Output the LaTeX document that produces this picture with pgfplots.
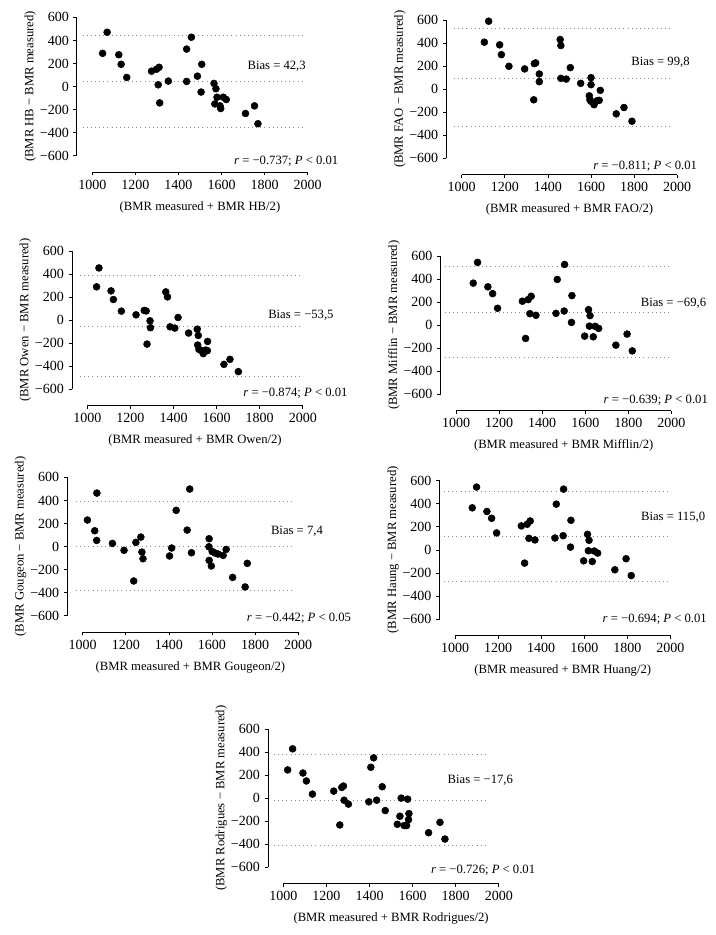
\documentclass[border=0pt]{standalone}
\usepackage{pgfplots}
\pgfplotsset{compat=1.18}
\usepackage{pgfplotstable}
\usepackage{fontspec}
\setmainfont{Liberation Serif}

\pgfplotstableread{
x y
1048 288
1069 471
1123 276
1134 193
1160 79
1275 133
1298 150
1310 167
1306 15
1313 -142
1353 47
1438 325
1460 428
1438 44
1488 90
1508 193
1505 -48
1565 27
1574 -19
1579 -93
1569 -151
1593 -168
1596 -191
1608 -93
1622 -113
1711 -234
1753 -168
1769 -323
}\dataHB

\pgfplotstableread{
x y
1125 590
1105 408
1176 385
1184 300
1219 199
1292 176
1337 222
1343 228
1360 132
1360 65
1334 -92
1457 431
1460 379
1460 94
1485 88
1504 187
1552 51
1600 100
1600 39
1643 -10
1592 -57
1595 -92
1600 -106
1614 -135
1629 -99
1638 -97
1717 -214
1753 -159
1790 -278
}\dataFAO

\pgfplotstableread{
x y
1043 289
1054 453
1110 254
1121 179
1158 78
1226 46
1264 84
1273 80
1291 -6
1293 -66
1277 -208
1364 245
1372 202
1384 -58
1406 -69
1421 23
1470 -112
1510 -78
1515 -133
1512 -216
1518 -254
1530 -265
1538 -291
1550 -260
1557 -265
1558 -185
1634 -384
1662 -340
1701 -447
}\dataOwen

\pgfplotstableread{
x y
1080 365
1100 545
1148 333
1170 274
1193 147
1308 208
1335 222
1349 251
1343 100
1371 86
1323 -115
1470 397
1464 103
1504 527
1502 123
1538 257
1536 24
1615 135
1622 83
1619 -8
1597 -95
1637 -101
1646 -10
1662 -28
1742 -173
1794 -77
1818 -223
}\dataMifflin

\pgfplotstableread{
x y
1022 230
1056 137
1066 464
1065 53
1138 27
1192 -33
1237 -299
1247 36
1270 82
1275 -48
1280 -106
1403 -82
1413 -13
1434 314
1485 143
1497 499
1505 -54
1587 68
1586 -2
1587 -120
1597 -169
1601 -43
1614 -56
1628 -65
1652 -77
1666 -25
1696 -268
1764 -146
1754 -351
}\dataGougeon

\pgfplotstableread{
x y
1020 245
1043 428
1091 218
1107 149
1135 35
1234 61
1271 93
1279 105
1282 -18
1302 -52
1262 -233
1397 -32
1433 -18
1406 268
1419 350
1459 99
1473 -108
1529 -227
1541 -157
1547 0
1561 -238
1572 -238
1577 -9
1583 -134
1581 -187
1674 -300
1727 -210
1750 -355
}\dataRod

\pgfplotsset{
 bapanel/.style={
  scale only axis, width=161.6pt, height=103.7pt,
  xmin=1000, xmax=2000, ymin=-600, ymax=600,
  axis x line*=bottom, axis y line*=left,
  axis x line shift=12.2pt, axis y line shift=11.6pt,
  xtick={1000,1200,1400,1600,1800,2000},
  ytick={-600,-400,-200,0,200,400,600},
  xticklabels={1000,1200,1400,1600,1800,2000},
  yticklabels={−600,−400,−200,0,200,400,600},
  tick align=outside, major tick length=2.5pt,
  tick style={black, line width=0.5pt},
  axis line style={black, line width=0.5pt, -},
  tick label style={font=\fontsize{10.5}{12}\selectfont},
  label style={font=\fontsize{9.5}{11}\selectfont},
  ylabel style={yshift=-4pt},
  xlabel style={yshift=-2pt},
  clip=false,
  anchor=south west,
 },
 dots/.style={only marks, mark=*, mark size=2.6pt, black, mark options={draw=black, fill=black}},
 lim/.style={black!45, line width=0.6pt, dash pattern=on 0.7pt off 2.4pt},
}
\tikzset{ann/.style={font=\fontsize{9.5}{11}\selectfont, inner sep=0pt}}

\begin{document}
\begin{tikzpicture}
\path[use as bounding box] (0,0) rectangle (537pt,701.25pt);

% Panel 1: HB
\begin{axis}[bapanel, at={(69.2pt,584.5pt)},
  xlabel={(BMR measured + BMR HB/2)}, ylabel={(BMR HB − BMR measured)}]
\addplot[lim] coordinates {(955,440) (1980,440)};
\addplot[lim] coordinates {(955,44) (1980,44)};
\addplot[lim] coordinates {(955,-356) (1980,-356)};
\addplot[dots] table {\dataHB};
\node[ann, anchor=east] at (axis cs:1992,179) {Bias = 42,3};
\node[ann, anchor=east] at (axis cs:2143,-646) {\textit{r} = −0.737; \textit{P} < 0.01};
\end{axis}

% Panel 2: FAO
\begin{axis}[bapanel, at={(346.3pt,582.5pt)},
  xlabel={(BMR measured + BMR FAO/2)}, ylabel={(BMR FAO − BMR measured)}]
\addplot[lim] coordinates {(964,527) (1974,527)};
\addplot[lim] coordinates {(964,97) (1974,97)};
\addplot[lim] coordinates {(964,-324) (1974,-324)};
\addplot[dots] table {\dataFAO};
\node[ann, anchor=east] at (axis cs:2059,237) {Bias = 99,8};
\node[ann, anchor=east] at (axis cs:2093,-665) {\textit{r} = −0.811; \textit{P} < 0.01};
\end{axis}

% Panel 3: Owen
\begin{axis}[bapanel, at={(65.5pt,409.3pt)},
  xlabel={(BMR measured + BMR Owen/2)}, ylabel={(BMR Owen − BMR measured)}]
\addplot[lim] coordinates {(966,386) (1990,386)};
\addplot[lim] coordinates {(966,-51) (1990,-51)};
\addplot[lim] coordinates {(966,-488) (1990,-488)};
\addplot[dots] table {\dataOwen};
\node[ann, anchor=east] at (axis cs:2144,38) {Bias = −53,5};
\node[ann, anchor=east] at (axis cs:2209,-634) {\textit{r} = −0.874; \textit{P} < 0.01};
\end{axis}

% Panel 4: Mifflin
\begin{axis}[bapanel, at={(342.0pt,405.5pt)},
  xlabel={(BMR measured + BMR Mifflin/2)}, ylabel={(BMR Mifflin − BMR measured)}]
\addplot[lim] coordinates {(949,513) (1992,513)};
\addplot[lim] coordinates {(949,115) (1992,115)};
\addplot[lim] coordinates {(949,-281) (1992,-281)};
\addplot[dots] table {\dataMifflin};
\node[ann, anchor=east] at (axis cs:2162,193) {Bias = −69,6};
\node[ann, anchor=east] at (axis cs:2170,-650) {\textit{r} = −0.639; \textit{P} < 0.01};
\end{axis}

% Panel 5: Gougeon
\begin{axis}[bapanel, at={(62.0pt,239.5pt)},
  xlabel={(BMR measured + BMR Gougeon/2)}, ylabel={(BMR Gougeon − BMR measured)}]
\addplot[lim] coordinates {(969,394) (1984,394)};
\addplot[lim] coordinates {(969,5) (1984,5)};
\addplot[lim] coordinates {(969,-383) (1984,-383)};
\addplot[dots] table {\dataGougeon};
\node[ann, anchor=east] at (axis cs:2116,129) {Bias = 7,4};
\node[ann, anchor=east] at (axis cs:2247,-623) {\textit{r} = −0.442; \textit{P} < 0.05};
\end{axis}

% Panel 6: Huang
\begin{axis}[bapanel, at={(341.25pt,237.0pt)},
  xlabel={(BMR measured + BMR Huang/2)}, ylabel={(BMR Haung − BMR measured)}]
\addplot[lim] coordinates {(949,507) (1992,507)};
\addplot[lim] coordinates {(949,118) (1992,118)};
\addplot[lim] coordinates {(949,-276) (1992,-276)};
\addplot[dots] table {\dataMifflin};
\node[ann, anchor=east] at (axis cs:2162,279) {Bias = 115,0};
\node[ann, anchor=east] at (axis cs:2170,-600) {\textit{r} = −0.694; \textit{P} < 0.01};
\end{axis}

% Panel 7: Rodrigues
\begin{axis}[bapanel, at={(212.5pt,50.8pt)},
  xlabel={(BMR measured + BMR Rodrigues/2)}, ylabel={(BMR Rodrigues − BMR measured)}]
\addplot[lim] coordinates {(957,380) (1953,380)};
\addplot[lim] coordinates {(957,-18) (1953,-18)};
\addplot[lim] coordinates {(957,-414) (1953,-414)};
\addplot[dots] table {\dataRod};
\node[ann, anchor=east] at (axis cs:2067,154) {Bias = −17,6};
\node[ann, anchor=east] at (axis cs:2170,-629) {\textit{r} = −0.726; \textit{P} < 0.01};
\end{axis}
\end{tikzpicture}
\end{document}
